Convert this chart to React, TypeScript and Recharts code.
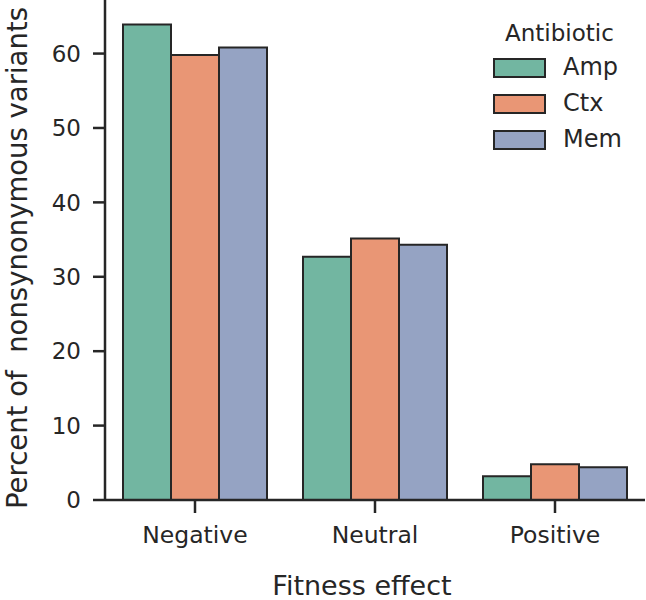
import React from "react";
import { BarChart, Bar, XAxis, YAxis } from "recharts";

// values (percent of nonsynonymous variants)
const categories = ["Negative", "Neutral", "Positive"];
const amp = [63.9, 32.7, 3.2];
const ctx = [59.8, 35.15, 4.8];
const mem = [60.8, 34.3, 4.4];
const yTicks = [0, 10, 20, 30, 40, 50, 60];

const series = [
  { key: "Amp", color: "#72b6a1" },
  { key: "Ctx", color: "#e99675" },
  { key: "Mem", color: "#95a3c3" },
];

const data = categories.map((c, i) => ({
  name: c,
  Amp: amp[i],
  Ctx: ctx[i],
  Mem: mem[i],
}));

const FONT = "'DejaVu Sans', sans-serif";
const INK = "#262626";

// seaborn-style legend with a title, laid over the chart
const LegendBox = () => (
  <div style={{ position: "absolute", left: 0, top: 0, width: 646, height: 160, fontFamily: FONT, color: INK, pointerEvents: "none" }}>
    <div style={{ position: "absolute", left: 505, top: 19, fontSize: 23, lineHeight: "28px" }}>
      Antibiotic
    </div>
    {series.map((s, i) => (
      <div key={s.key}>
        <div
          style={{
            position: "absolute",
            left: 493,
            top: 58 + i * 36,
            width: 49,
            height: 16,
            background: s.color,
            border: `2px solid ${INK}`,
          }}
        />
        <div style={{ position: "absolute", left: 563, top: 52 + i * 36, fontSize: 24, lineHeight: "30px" }}>
          {s.key}
        </div>
      </div>
    ))}
  </div>
);

export default function App() {
  return (
    <div style={{ position: "absolute", left: 0, top: 0, width: 646, height: 600, background: "#fff" }}>
      <BarChart
        width={646}
        height={600}
        data={data}
        margin={{ top: 0, right: 1, bottom: 0, left: 0 }}
        barCategoryGap="10%"
        barGap={0}
      >
        <XAxis
          dataKey="name"
          height={100}
          tickSize={13}
          tickMargin={13}
          axisLine={{ stroke: INK, strokeWidth: 2.5 }}
          tickLine={{ stroke: INK, strokeWidth: 2.5 }}
          tick={{ fill: INK, fontSize: 23.5, fontFamily: FONT }}
          label={{
            content: () => (
              <text x={362} y={595} textAnchor="middle" fontSize={27} fontFamily={FONT} fill={INK}>
                Fitness effect
              </text>
            ),
          }}
        />
        <YAxis
          width={105}
          domain={[0, 67.2]}
          ticks={yTicks}
          allowDataOverflow
          tickSize={12}
          tickMargin={12}
          axisLine={{ stroke: INK, strokeWidth: 2.5 }}
          tickLine={{ stroke: INK, strokeWidth: 2.5 }}
          tick={{ fill: INK, fontSize: 23, fontFamily: FONT }}
          label={{
            content: () => (
              <text
                x={27}
                y={258}
                transform="rotate(-90, 27, 258)"
                textAnchor="middle"
                fontSize={27.5}
                fontFamily={FONT}
                fill={INK}
                style={{ whiteSpace: "pre" }}
              >
                Percent of  nonsynonymous variants
              </text>
            ),
          }}
        />
        {series.map((s) => (
          <Bar
            key={s.key}
            dataKey={s.key}
            fill={s.color}
            stroke={INK}
            strokeWidth={2}
            isAnimationActive={false}
          />
        ))}
      </BarChart>
      <LegendBox />
    </div>
  );
}
